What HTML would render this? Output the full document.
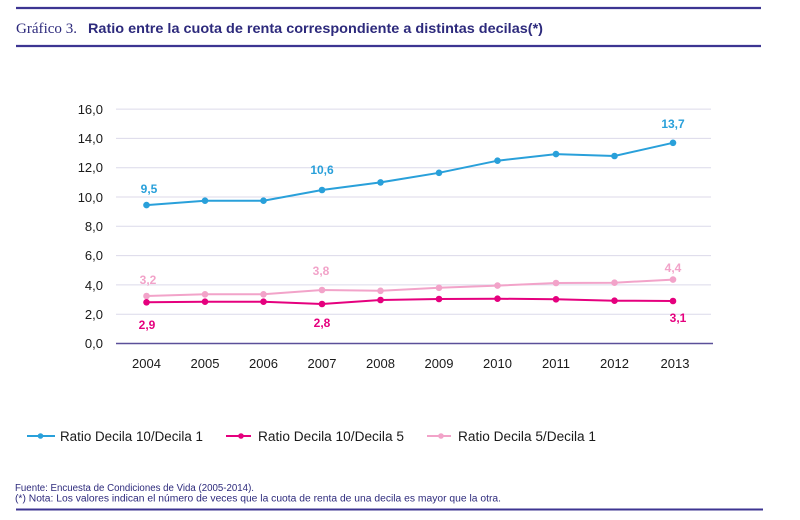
<!DOCTYPE html>
<html><head><meta charset="utf-8"><style>
html,body{margin:0;padding:0;background:#fff;}
svg{display:block;}
</style></head><body>
<svg width="800" height="520" viewBox="0 0 800 520" xmlns="http://www.w3.org/2000/svg">
<rect width="800" height="520" fill="#fff"/>
<!-- header rules -->
<line x1="16" y1="8" x2="761" y2="8" stroke="#3d3592" stroke-width="2.2"/>
<line x1="16" y1="46" x2="761" y2="46" stroke="#3d3592" stroke-width="2.2"/>
<text x="16" y="33" font-family="Liberation Serif, serif" font-size="15" fill="#2d2a7c" textLength="61" lengthAdjust="spacingAndGlyphs">Gráfico 3.</text>
<text x="88" y="33" font-family="Liberation Sans, sans-serif" font-weight="bold" font-size="14" fill="#2d2a7c" textLength="455" lengthAdjust="spacingAndGlyphs">Ratio entre la cuota de renta correspondiente a distintas decilas(*)</text>

<!-- gridlines -->
<g stroke="#dcdaea" stroke-width="1">
<line x1="116" y1="109.1" x2="711" y2="109.1"/>
<line x1="116" y1="138.4" x2="711" y2="138.4"/>
<line x1="116" y1="167.7" x2="711" y2="167.7"/>
<line x1="116" y1="197.0" x2="711" y2="197.0"/>
<line x1="116" y1="226.3" x2="711" y2="226.3"/>
<line x1="116" y1="255.6" x2="711" y2="255.6"/>
<line x1="116" y1="284.9" x2="711" y2="284.9"/>
<line x1="116" y1="314.2" x2="711" y2="314.2"/>
</g>
<line x1="116" y1="343.5" x2="713" y2="343.5" stroke="#5b5099" stroke-width="1.6"/>

<!-- y labels -->
<g font-family="Liberation Sans, sans-serif" font-size="13" fill="#1a1a1a" text-anchor="end">
<text x="103" y="114">16,0</text>
<text x="103" y="143">14,0</text>
<text x="103" y="172">12,0</text>
<text x="103" y="202">10,0</text>
<text x="103" y="231">8,0</text>
<text x="103" y="260">6,0</text>
<text x="103" y="290">4,0</text>
<text x="103" y="319">2,0</text>
<text x="103" y="348">0,0</text>
</g>
<!-- x labels -->
<g font-family="Liberation Sans, sans-serif" font-size="13" fill="#1a1a1a" text-anchor="middle">
<text x="146.5" y="368">2004</text>
<text x="205" y="368">2005</text>
<text x="263.5" y="368">2006</text>
<text x="322" y="368">2007</text>
<text x="380.5" y="368">2008</text>
<text x="439" y="368">2009</text>
<text x="497.5" y="368">2010</text>
<text x="556" y="368">2011</text>
<text x="614.5" y="368">2012</text>
<text x="675" y="368">2013</text>
</g>

<!-- series: pink 5/1 -->
<polyline fill="none" stroke="#f2a3c9" stroke-width="2" points="146.5,296.0 205,294.3 263.5,294.3 322,290.0 380.5,290.8 439,287.8 497.5,285.6 556,283.0 614.5,282.7 673,279.6"/>
<g fill="#f2a3c9">
<circle cx="146.5" cy="296.0" r="3.3"/><circle cx="205" cy="294.3" r="3.3"/><circle cx="263.5" cy="294.3" r="3.3"/><circle cx="322" cy="290.0" r="3.3"/><circle cx="380.5" cy="290.8" r="3.3"/><circle cx="439" cy="287.8" r="3.3"/><circle cx="497.5" cy="285.6" r="3.3"/><circle cx="556" cy="283.0" r="3.3"/><circle cx="614.5" cy="282.7" r="3.3"/><circle cx="673" cy="279.6" r="3.3"/>
</g>
<!-- series: magenta 10/5 -->
<polyline fill="none" stroke="#e5007e" stroke-width="2" points="146.5,302.3 205,301.7 263.5,301.7 322,304.0 380.5,300.0 439,299.0 497.5,298.7 556,299.3 614.5,300.7 673,301.0"/>
<g fill="#e5007e">
<circle cx="146.5" cy="302.3" r="3.3"/><circle cx="205" cy="301.7" r="3.3"/><circle cx="263.5" cy="301.7" r="3.3"/><circle cx="322" cy="304.0" r="3.3"/><circle cx="380.5" cy="300.0" r="3.3"/><circle cx="439" cy="299.0" r="3.3"/><circle cx="497.5" cy="298.7" r="3.3"/><circle cx="556" cy="299.3" r="3.3"/><circle cx="614.5" cy="300.7" r="3.3"/><circle cx="673" cy="301.0" r="3.3"/>
</g>
<!-- series: blue 10/1 -->
<polyline fill="none" stroke="#29a0da" stroke-width="2" points="146.5,205.1 205,200.7 263.5,200.7 322,190.0 380.5,182.4 439,172.8 497.5,160.7 556,154.1 614.5,156.0 673,142.8"/>
<g fill="#29a0da">
<circle cx="146.5" cy="205.1" r="3.3"/><circle cx="205" cy="200.7" r="3.3"/><circle cx="263.5" cy="200.7" r="3.3"/><circle cx="322" cy="190.0" r="3.3"/><circle cx="380.5" cy="182.4" r="3.3"/><circle cx="439" cy="172.8" r="3.3"/><circle cx="497.5" cy="160.7" r="3.3"/><circle cx="556" cy="154.1" r="3.3"/><circle cx="614.5" cy="156.0" r="3.3"/><circle cx="673" cy="142.8" r="3.3"/>
</g>

<!-- data labels -->
<g font-family="Liberation Sans, sans-serif" font-weight="bold" font-size="12" text-anchor="middle">
<text x="149" y="193" fill="#29a0da">9,5</text>
<text x="322" y="174" fill="#29a0da">10,6</text>
<text x="673" y="128" fill="#29a0da">13,7</text>
<text x="148" y="284" fill="#f2a3c9">3,2</text>
<text x="321" y="275" fill="#f2a3c9">3,8</text>
<text x="673" y="272" fill="#f2a3c9">4,4</text>
<text x="147" y="329" fill="#e5007e">2,9</text>
<text x="322" y="327" fill="#e5007e">2,8</text>
<text x="678" y="322" fill="#e5007e">3,1</text>
</g>

<!-- legend -->
<line x1="27" y1="436" x2="55" y2="436" stroke="#29a0da" stroke-width="2"/>
<circle cx="40.5" cy="436" r="2.8" fill="#29a0da"/>
<text x="60" y="441" font-family="Liberation Sans, sans-serif" font-size="13.5" fill="#1a1a1a" textLength="143" lengthAdjust="spacingAndGlyphs">Ratio Decila 10/Decila 1</text>
<line x1="226" y1="436" x2="251" y2="436" stroke="#e5007e" stroke-width="2"/>
<circle cx="241" cy="436" r="2.8" fill="#e5007e"/>
<text x="258" y="441" font-family="Liberation Sans, sans-serif" font-size="13.5" fill="#1a1a1a" textLength="146" lengthAdjust="spacingAndGlyphs">Ratio Decila 10/Decila 5</text>
<line x1="427" y1="436" x2="451" y2="436" stroke="#f2a3c9" stroke-width="2"/>
<circle cx="441" cy="436" r="2.8" fill="#f2a3c9"/>
<text x="458" y="441" font-family="Liberation Sans, sans-serif" font-size="13.5" fill="#1a1a1a" textLength="138" lengthAdjust="spacingAndGlyphs">Ratio Decila 5/Decila 1</text>

<!-- footer -->
<text x="15" y="491" font-family="Liberation Sans, sans-serif" font-size="10" fill="#2d2a7c" textLength="239" lengthAdjust="spacingAndGlyphs">Fuente: Encuesta de Condiciones de Vida (2005-2014).</text>
<text x="15" y="501.5" font-family="Liberation Sans, sans-serif" font-size="10" fill="#2d2a7c" textLength="486" lengthAdjust="spacingAndGlyphs">(*) Nota: Los valores indican el número de veces que la cuota de renta de una decila es mayor que la otra.</text>
<line x1="16" y1="509.5" x2="763" y2="509.5" stroke="#3d3592" stroke-width="2"/>
</svg>
</body></html>
